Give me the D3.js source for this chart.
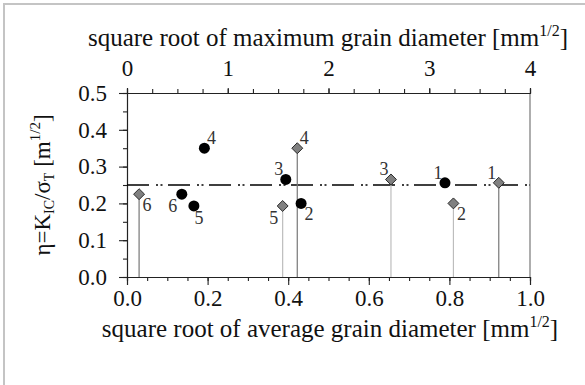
<!DOCTYPE html>
<html><head><meta charset="utf-8">
<script src="https://cdn.jsdelivr.net/npm/d3@7/dist/d3.min.js"></script>
<style>
html,body{margin:0;padding:0;background:#fff;}
svg{display:block;}
svg text{font-family:"Liberation Serif","Tinos","Times New Roman","DejaVu Serif",serif !important;}
</style></head>
<body>
<svg id="chart" width="585" height="385"></svg>
<script>
// ---- data ----
const sampleIds = ["1","2","3","4","5","6"];
const eta = [0.256, 0.200, 0.265, 0.350, 0.193, 0.225];            // η = KIC/σT [m^1/2]
const sqrtAvgGrain = [0.789, 0.432, 0.394, 0.192, 0.166, 0.136];   // bottom axis (circles)
const sqrtMaxGrain = [3.69, 3.24, 2.62, 1.69, 1.545, 0.12];        // top axis (diamonds)
const circleLabelPos = ["ul","lr","ul","ur","b","ll"];
const diamondLabelPos = ["ul","lr","ul","ur","ll","lr"];
const dropTone = ["dark","light","light","dark","light","dark"];
const refEta = 0.25;
const bottomTicks = [0.0, 0.2, 0.4, 0.6, 0.8, 1.0];
const topTicks = [0, 1, 2, 3, 4];
const yTicks = [0.0, 0.1, 0.2, 0.3, 0.4, 0.5];

// ---- layout ----
const L = 127, R = 530, T = 93, B = 277;
const FONT = '"Liberation Serif","Tinos","Times New Roman","DejaVu Serif",serif';
const svg = d3.select("#chart");

svg.append("rect").attr("x",4).attr("y",4).attr("width",640).attr("height",440)
  .attr("fill","none").attr("stroke","#c4c4c4").attr("stroke-width",2);

const x = d3.scaleLinear().domain([0,1]).range([L,R]);
const xTop = d3.scaleLinear().domain([0,4]).range([L,R]);
const y = d3.scaleLinear().domain([0,0.5]).range([B,T]);

const axisColor = "#222";
function styleAxis(g){
  g.attr("font-family",FONT);
  g.select(".domain").attr("stroke",axisColor).attr("stroke-width",1.1);
  g.selectAll(".tick line").attr("stroke",axisColor).attr("stroke-width",1.1);
  g.selectAll("text").style("font-size","23px").style("font-family",FONT).attr("fill","#111");
}

// right frame line
svg.append("line").attr("x1",R).attr("x2",R).attr("y1",T).attr("y2",B)
  .attr("stroke","#777").attr("stroke-width",1.2);

// bottom axis: minor + major
svg.append("g").attr("transform",`translate(0,${B})`)
  .call(d3.axisBottom(x).tickValues(d3.range(0,1.0001,0.05)).tickSize(4).tickFormat(""))
  .call(styleAxis);
svg.append("g").attr("transform",`translate(0,${B})`)
  .call(d3.axisBottom(x).tickValues(bottomTicks).tickSize(8).tickPadding(5).tickFormat(d3.format(".1f")))
  .call(styleAxis);

// top axis
svg.append("g").attr("transform",`translate(0,${T})`)
  .call(d3.axisTop(xTop).tickValues(d3.range(0,4.0001,0.25)).tickSize(4).tickFormat(""))
  .call(styleAxis);
svg.append("g").attr("transform",`translate(0,${T})`)
  .call(d3.axisTop(xTop).tickValues(topTicks).tickSize(5).tickPadding(12).tickFormat(d3.format("d")))
  .call(styleAxis);

// left axis
svg.append("g").attr("transform",`translate(${L},0)`)
  .call(d3.axisLeft(y).tickValues(d3.range(0,0.5001,0.05)).tickSize(4).tickFormat(""))
  .call(styleAxis);
svg.append("g").attr("transform",`translate(${L},0)`)
  .call(d3.axisLeft(y).tickValues(yTicks).tickSize(8).tickPadding(12).tickFormat(d3.format(".1f")))
  .call(styleAxis);

// reference dash-dot-dot line
svg.append("line").attr("x1",x(0)).attr("x2",x(1)).attr("y1",y(refEta)).attr("y2",y(refEta))
  .attr("stroke","#000").attr("stroke-width",1.5)
  .attr("stroke-dasharray","22,7,2,2.5,2,5.5");

const rows = sampleIds.map((id,i)=>({id, eta:eta[i], avg:sqrtAvgGrain[i], max:sqrtMaxGrain[i],
  cpos:circleLabelPos[i], dpos:diamondLabelPos[i], tone:dropTone[i]}));

// drop lines for diamonds
svg.append("g").selectAll("line").data(rows).join("line")
  .attr("x1",d=>xTop(d.max)).attr("x2",d=>xTop(d.max))
  .attr("y1",d=>y(d.eta)).attr("y2",B)
  .attr("stroke",d=>d.tone==="dark"?"#777":"#bdbdbd").attr("stroke-width",1.2);

// circles
svg.append("g").selectAll("circle").data(rows).join("circle")
  .attr("cx",d=>x(d.avg)).attr("cy",d=>y(d.eta)).attr("r",5.5).attr("fill","#000");

// diamonds
const diamond = d3.symbol().type(d3.symbolDiamond2).size(76);
svg.append("g").selectAll("path").data(rows).join("path")
  .attr("d",diamond)
  .attr("transform",d=>`translate(${xTop(d.max)},${y(d.eta)})`)
  .attr("fill","#808080").attr("stroke","#2a2a2a").attr("stroke-width",1);

const off = {ul:[-7,-10], ur:[7,-10], ll:[-9,12], lr:[8,11], b:[5,12]};
function labels(px, key){
  svg.append("g").selectAll("text").data(rows).join("text")
    .attr("x",d=>px(d)+off[d[key]][0]).attr("y",d=>y(d.eta)+off[d[key]][1])
    .attr("text-anchor","middle").attr("dominant-baseline","central")
    .style("font-size","18px").attr("fill","#333").text(d=>d.id);
}
labels(d=>x(d.avg),"cpos");
labels(d=>xTop(d.max),"dpos");

// titles
function titleWithSup(tx, ty, main){
  const t = svg.append("text").attr("x",tx).attr("y",ty).attr("text-anchor","middle")
    .style("font-size","25px").attr("fill","#111");
  t.append("tspan").text(main);
  t.append("tspan").style("font-size","16px").attr("dy",-10).text("1/2");
  t.append("tspan").attr("dy",10).text("]");
  return t;
}
titleWithSup(328, 46, "square root of maximum grain diameter [mm");
titleWithSup(330, 337, "square root of average grain diameter [mm");

// y label
const yl = svg.append("text").attr("transform",`translate(50,${(T+B)/2}) rotate(-90)`)
  .attr("text-anchor","middle").style("font-size","23px").attr("fill","#111");
yl.append("tspan").text("η=K");
yl.append("tspan").style("font-size","14px").attr("dy",4).text("IC");
yl.append("tspan").attr("dy",-4).text("/σ");
yl.append("tspan").style("font-size","14px").attr("dy",4).text("T");
yl.append("tspan").attr("dy",-4).text(" [m");
yl.append("tspan").style("font-size","15px").attr("dy",-10).text("1/2");
yl.append("tspan").attr("dy",10).text("]");
</script>
</body></html>
